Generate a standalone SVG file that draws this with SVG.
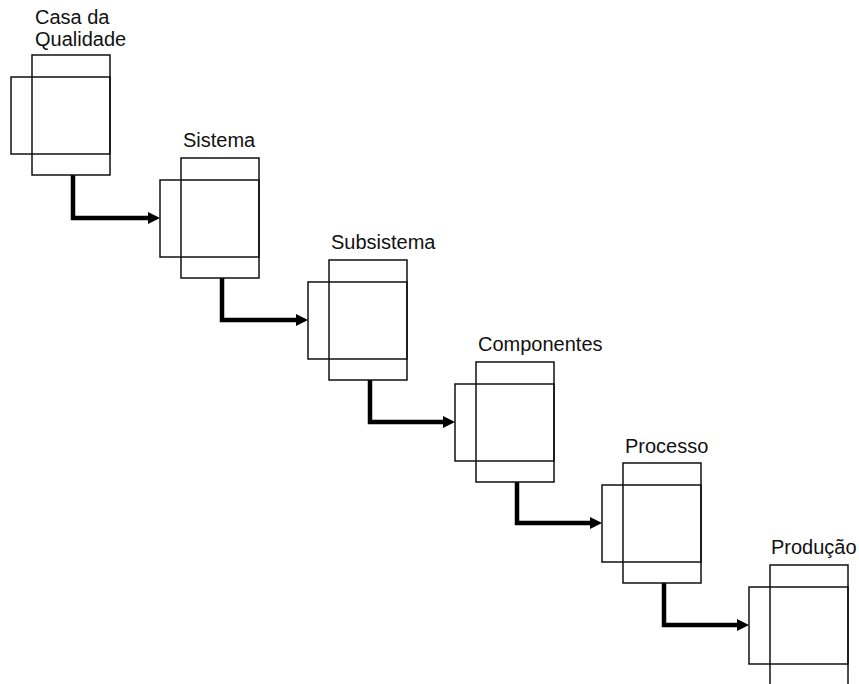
<svg xmlns="http://www.w3.org/2000/svg" width="859" height="684" viewBox="0 0 859 684">
  <style>
    .frame { fill: none; stroke: #111; stroke-width: 1.5; }
    .label { font-family: "Liberation Sans", Arial, sans-serif; font-size: 20px; fill: #111; }
    .flow { fill: none; stroke: #000; stroke-width: 4.5; stroke-linejoin: miter; marker-end: url(#head); }
  </style>
  <defs>
    <marker id="head" markerUnits="userSpaceOnUse" viewBox="0 0 12 12" markerWidth="12" markerHeight="12" refX="1" refY="6" orient="auto">
      <path d="M0,0 L12,6 L0,12 z" fill="#000"/>
    </marker>
    <!-- one house-of-quality matrix: tall block plus wide overlapping block -->
    <g id="matrix">
      <rect class="frame" x="0" y="0" width="78" height="120"/>
      <rect class="frame" x="-21" y="22" width="99" height="77"/>
    </g>
  </defs>

  <rect width="859" height="684" fill="#fff"/>

  <g id="connectors">
    <path class="flow" d="M73,175 V218 H149"/>
    <path class="flow" d="M222,278 V320 H297"/>
    <path class="flow" d="M370,380 V422 H444"/>
    <path class="flow" d="M517,482 V523 H591"/>
    <path class="flow" d="M664,583 V625 H738"/>
  </g>

  <g id="casa-da-qualidade">
    <use href="#matrix" x="32" y="55"/>
    <text class="label" x="35" y="23.5">Casa da</text>
    <text class="label" x="35" y="45.5">Qualidade</text>
  </g>
  <g id="sistema">
    <use href="#matrix" x="181" y="158"/>
    <text class="label" x="183" y="147">Sistema</text>
  </g>
  <g id="subsistema">
    <use href="#matrix" x="329" y="260"/>
    <text class="label" x="331" y="249">Subsistema</text>
  </g>
  <g id="componentes">
    <use href="#matrix" x="476" y="362"/>
    <text class="label" x="478" y="351">Componentes</text>
  </g>
  <g id="processo">
    <use href="#matrix" x="623" y="463"/>
    <text class="label" x="625" y="452.5">Processo</text>
  </g>
  <g id="producao">
    <use href="#matrix" x="770" y="565"/>
    <text class="label" x="771" y="553.5">Produção</text>
  </g>
</svg>
